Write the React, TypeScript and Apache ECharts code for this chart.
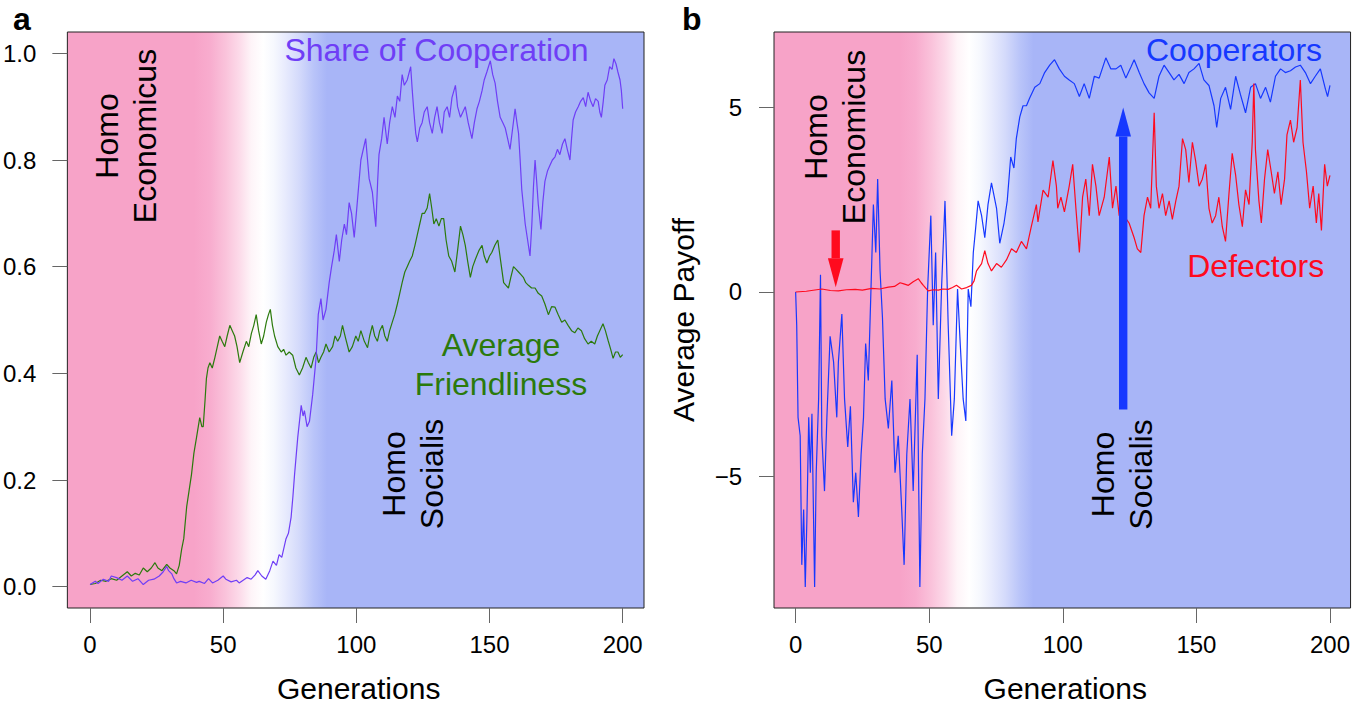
import React, { useEffect, useRef } from 'react';
import * as echarts from 'echarts';

const FONT = '"Liberation Sans", Arial, Helvetica, sans-serif';

// ---------- tick values ----------
const genTicks = [0, 50, 100, 150, 200];
const shareTicks = [0, 0.2, 0.4, 0.6, 0.8, 1.0];
const payoffTicks = [-5, 0, 5];

// ---------- panel a: [generation, value] ----------
const shareOfCooperation: [number, number][] = [
  [0, 0.004], [2, 0.01], [3, 0.006], [5, 0.014], [7, 0.01], [8, 0.02], [10, 0.017], [12, 0.012], [14, 0.02], [16, 0.01],
  [18, 0.015], [20, 0.004], [22, 0.012], [24, 0.014], [26, 0.02], [27.5, 0.028], [28.8, 0.038], [29.5, 0.03], [30.7, 0.024], [31.5, 0.015],
  [32.5, 0.007], [34, 0.01], [36, 0.007], [38, 0.012], [40, 0.008], [41, 0.01], [43, 0.006], [44.5, 0.015], [46, 0.007], [48, 0.012],
  [50, 0.02], [51, 0.014], [53, 0.009], [55, 0.012], [56, 0.007], [57.5, 0.012], [59, 0.017], [60.5, 0.014], [62, 0.022], [63, 0.03],
  [64.5, 0.02], [66, 0.014], [67.5, 0.03], [68.7, 0.048], [70, 0.04], [71, 0.06], [72, 0.055], [73.6, 0.09], [74.5, 0.1], [75.5, 0.13],
  [76.2, 0.17], [76.8, 0.21], [78, 0.28], [79.3, 0.34], [80, 0.32], [80.5, 0.33], [81.5, 0.3], [82.4, 0.31], [83.6, 0.36], [84.9, 0.43],
  [85.7, 0.51], [86.7, 0.54], [87.5, 0.5], [88.6, 0.52], [89.8, 0.57], [90.7, 0.6], [91.7, 0.63], [92.5, 0.66], [93.6, 0.61], [94.5, 0.65],
  [95.5, 0.68], [96.3, 0.66], [97.3, 0.72], [98.2, 0.7], [99.2, 0.655], [100, 0.7], [101.7, 0.8], [103.5, 0.84], [104.2, 0.8], [104.8, 0.765],
  [106, 0.74], [107.3, 0.675], [108, 0.76], [108.5, 0.81], [109.5, 0.84], [110.4, 0.88], [111.6, 0.83], [112.5, 0.87], [113.5, 0.9], [114.5, 0.88],
  [115.4, 0.92], [116.3, 0.91], [117.2, 0.96], [118, 0.94], [119.1, 0.95], [120.4, 0.975], [121, 0.93], [121.6, 0.89], [122.3, 0.85], [122.9, 0.834],
  [123.8, 0.86], [124.7, 0.87], [125.5, 0.89], [126.6, 0.9], [127.5, 0.87], [128.5, 0.85], [129.4, 0.88], [130.3, 0.9], [131.2, 0.87], [132.2, 0.85],
  [133, 0.89], [134.1, 0.9], [135, 0.88], [135.9, 0.917], [137.2, 0.94], [138, 0.9], [139.1, 0.88], [140, 0.89], [140.9, 0.9], [142, 0.87],
  [143.4, 0.84], [144.3, 0.87], [145.3, 0.896], [146.2, 0.91], [147.2, 0.93], [148, 0.95], [149, 0.965], [150.3, 0.986], [151.2, 0.96], [152.1, 0.944],
  [153, 0.91], [154, 0.88], [155, 0.87], [155.9, 0.86], [156.8, 0.84], [157.7, 0.82], [158.7, 0.86], [159.6, 0.896], [160.3, 0.87], [160.9, 0.85],
  [161.5, 0.8], [162.1, 0.745], [162.8, 0.71], [163.4, 0.68], [164.3, 0.65], [165.2, 0.62], [165.9, 0.68], [166.5, 0.75], [167.1, 0.8], [167.7, 0.76],
  [168.3, 0.717], [169.3, 0.67], [170, 0.72], [170.8, 0.76], [171.8, 0.78], [172.7, 0.79], [173.6, 0.8], [174.6, 0.806], [175.5, 0.82], [176.4, 0.81],
  [177.4, 0.83], [178.3, 0.84], [179.2, 0.82], [180.2, 0.8], [180.8, 0.84], [181.4, 0.875], [182.3, 0.89], [183.3, 0.9], [184.2, 0.91], [185.2, 0.917],
  [186.1, 0.9], [187, 0.927], [188, 0.91], [188.9, 0.9], [189.8, 0.915], [190.8, 0.91], [191.4, 0.89], [192, 0.88], [192.7, 0.91], [193.3, 0.94],
  [194.2, 0.95], [195.1, 0.975], [196, 0.97], [196.7, 0.99], [197.5, 0.98], [198.2, 0.965], [199, 0.95], [199.5, 0.93], [200, 0.896],
];

const averageFriendliness: [number, number][] = [
  [0, 0.004], [2, 0.006], [4, 0.012], [6, 0.01], [8, 0.015], [10, 0.012], [12, 0.02], [14, 0.028], [15.5, 0.02], [17, 0.025],
  [18.5, 0.022], [20, 0.035], [21.5, 0.028], [23, 0.035], [24.4, 0.045], [25.5, 0.035], [27, 0.03], [28.8, 0.042], [30, 0.035], [31.5, 0.03],
  [32.5, 0.024], [33.5, 0.04], [34.4, 0.07], [35.2, 0.09], [36.3, 0.15], [37.2, 0.18], [38.1, 0.21], [39, 0.25], [40, 0.28], [41.2, 0.317],
  [42, 0.3], [42.5, 0.3], [43.2, 0.35], [43.7, 0.39], [44.3, 0.41], [45, 0.42], [45.9, 0.41], [46.9, 0.43], [47.8, 0.45], [48.7, 0.47],
  [49.6, 0.46], [50.6, 0.45], [51.5, 0.47], [52.5, 0.49], [53.4, 0.48], [54.3, 0.47], [55.2, 0.45], [56.2, 0.42], [57.4, 0.44], [58.7, 0.46],
  [59.6, 0.45], [60.6, 0.475], [61.5, 0.49], [62.4, 0.51], [63.3, 0.48], [64.3, 0.455], [65.2, 0.47], [66.2, 0.496], [67, 0.51], [67.7, 0.52],
  [68.5, 0.49], [69.3, 0.47], [70.5, 0.45], [71.8, 0.44], [72.7, 0.445], [73.6, 0.434], [74.8, 0.44], [76.1, 0.434], [77.3, 0.41], [78.6, 0.397],
  [79.8, 0.41], [81.1, 0.43], [82, 0.42], [83, 0.41], [84, 0.43], [84.9, 0.44], [85.8, 0.42], [86.7, 0.43], [87.7, 0.44], [88.6, 0.455],
  [89.8, 0.44], [91.1, 0.45], [92, 0.47], [93, 0.46], [94, 0.47], [94.8, 0.49], [96, 0.465], [97.3, 0.44], [98.5, 0.45], [99.8, 0.47],
  [100.7, 0.46], [101.7, 0.48], [103, 0.46], [104.2, 0.448], [105, 0.47], [106, 0.49], [106.9, 0.47], [107.9, 0.46], [108.8, 0.48], [109.8, 0.49],
  [110.7, 0.47], [111.6, 0.46], [112.5, 0.48], [113.5, 0.496], [114.4, 0.51], [115.4, 0.53], [116.3, 0.55], [117.2, 0.57], [118.2, 0.59], [119.1, 0.6],
  [120, 0.61], [121, 0.62], [122, 0.64], [122.9, 0.66], [123.8, 0.68], [124.7, 0.7], [125.6, 0.7], [126.6, 0.71], [127.5, 0.737], [128.3, 0.71],
  [129.1, 0.68], [130, 0.69], [131, 0.676], [131.9, 0.69], [132.8, 0.69], [133.7, 0.65], [134.7, 0.62], [135.8, 0.61], [137, 0.59], [138, 0.63],
  [139.1, 0.676], [140, 0.66], [140.9, 0.64], [141.8, 0.61], [142.8, 0.58], [143.7, 0.6], [144.7, 0.614], [146, 0.63], [147.2, 0.64], [148, 0.62],
  [149, 0.607], [150, 0.62], [150.9, 0.627], [152, 0.64], [153.1, 0.65], [154.2, 0.61], [155.3, 0.57], [156.2, 0.565], [157.1, 0.56], [158, 0.58],
  [159, 0.6], [160, 0.595], [160.9, 0.59], [161.8, 0.585], [162.7, 0.58], [163.6, 0.57], [164.6, 0.565], [165.8, 0.56], [167.1, 0.56], [168.3, 0.55],
  [169.6, 0.545], [170.8, 0.53], [172.1, 0.51], [173.3, 0.525], [174.6, 0.524], [175.8, 0.51], [177.1, 0.496], [178.3, 0.5], [179.5, 0.49], [180.8, 0.48],
  [182, 0.476], [183.2, 0.485], [184.5, 0.48], [185.7, 0.465], [187, 0.455], [188.2, 0.46], [189.5, 0.455], [190.5, 0.47], [191.4, 0.48], [192.6, 0.493],
  [193.5, 0.48], [194.5, 0.462], [195.5, 0.445], [196.4, 0.428], [197.3, 0.44], [198.2, 0.44], [199.1, 0.43], [200, 0.435],
];

// ---------- panel b: [generation, payoff] ----------
const cooperatorsPayoff: [number, number][] = [
  [0, 0], [0.4, -0.9], [0.9, -3.4], [1.7, -3.9], [2.3, -7.4], [3, -5.9], [3.6, -8.0], [4.2, -6.2], [4.9, -3.4], [5.5, -4.9],
  [6.1, -3.3], [7.1, -8.0], [7.7, -4.9], [8.6, -2.9], [9.3, 0.47], [9.8, -3.9], [10.8, -5.4], [11.7, -3.4], [12.9, -1.2], [14.2, -1.9],
  [15.4, -3.4], [16, -1.9], [17.3, -0.6], [18.3, -2.9], [19.5, -4.2], [20.5, -3.1], [21.6, -5.7], [22.5, -4.9], [23.5, -6.1], [24.5, -4.4],
  [25.4, -3.4], [26.2, -1.4], [27.2, -2.4], [28.2, 0.08], [29.1, 2.37], [30, 1.07], [30.7, 3.06], [31.6, 0.57], [32.5, -0.7], [33.5, -2.9],
  [34.7, -3.7], [36, -2.4], [37.2, -4.9], [38.4, -3.9], [39.7, -5.9], [40.6, -7.4], [41.6, -4.4], [42.8, -2.9], [44, -5.4], [45.5, -1.7],
  [46.5, -8.0], [47.4, -4.4], [48.4, -2.9], [49.4, 0.08], [50.6, 2.07], [51.5, -0.9], [52.4, 1.07], [53.4, -2.9], [54.6, 0.08], [55.9, 2.47],
  [57.1, -0.9], [58.4, -3.9], [59.4, -2.9], [60.6, 0.08], [61.6, -1.4], [62.7, -2.9], [63.7, -3.5], [64.6, 0.08], [65.6, -0.4], [66.5, 1.07],
  [67.3, 1.67], [68.3, 2.47], [69.6, 2.07], [70.8, 1.47], [72, 2.37], [73.3, 2.96], [75.2, 2.27], [76.4, 1.32], [78, 1.87], [79.2, 2.47],
  [80.5, 3.66], [81.7, 3.36], [82.6, 4.16], [83.9, 4.75], [85.1, 5.05], [86.4, 5.05], [87.6, 5.26], [89.5, 5.55], [91.4, 5.65], [93.2, 5.95],
  [95.1, 6.15], [96.9, 6.3], [98.7, 6.05], [100.6, 5.85], [102.4, 5.75], [104.3, 5.65], [106.2, 5.3], [108, 5.65], [109.9, 5.25], [111.8, 5.85],
  [113.6, 5.8], [116.1, 6.35], [118, 6.05], [119.9, 6.05], [121.7, 6.15], [123.6, 5.8], [125.5, 6.1], [126.7, 6.3], [128.6, 5.95], [130.4, 5.65],
  [132.3, 5.4], [134.2, 5.25], [136, 5.85], [137.9, 6.15], [139.8, 5.95], [141.6, 5.75], [143.5, 5.9], [145.4, 5.65], [147.2, 5.95], [149.1, 6.05],
  [151, 6.2], [152.8, 5.75], [154.7, 5.6], [156.6, 5.05], [157.6, 4.46], [159.1, 5.25], [160.9, 5.55], [162.8, 4.95], [164.7, 5.85], [166.5, 5.35],
  [168.4, 4.86], [170.3, 5.55], [172.1, 5.65], [174, 5.25], [175.9, 5.55], [177.7, 5.15], [179.6, 5.85], [181.5, 6.05], [183.3, 5.95], [185.2, 6.0],
  [187.1, 6.1], [188.9, 6.15], [190.8, 5.95], [192.7, 5.65], [194.5, 5.85], [196.4, 6.05], [198.3, 5.5], [199.1, 5.3], [200, 5.6],
];

const defectorsPayoff: [number, number][] = [
  [0, 0], [4, 0.02], [9.8, 0.08], [13, 0.04], [16, 0.03], [19, 0.06], [22.3, 0.07], [25, 0.05], [28.5, 0.1], [31.5, 0.08],
  [34.7, 0.13], [37, 0.15], [39.1, 0.25], [40.5, 0.22], [42.2, 0.18], [44, 0.28], [45.9, 0.36], [47, 0.25], [47.8, 0.18], [49.6, 0.03],
  [51.5, 0.06], [53.4, 0.05], [55, 0.08], [57.1, 0.07], [58.7, 0.12], [60.2, 0.18], [62.1, 0.08], [64, 0.12], [65.8, 0.18], [66.8, 0.3],
  [67.7, 0.57], [69.6, 0.77], [70.8, 1.12], [72, 0.77], [73.3, 0.57], [75.2, 0.77], [77, 0.67], [78.9, 0.87], [80.8, 1.17], [82.6, 1.07],
  [84.5, 1.37], [86.4, 1.17], [88.2, 1.77], [90.1, 2.37], [90.7, 1.9], [92.6, 2.76], [94.5, 2.57], [96.3, 3.56], [97.6, 2.87], [98.1, 2.27],
  [99.3, 2.57], [100.6, 2.17], [102.4, 2.87], [103.7, 3.46], [104.9, 2.27], [106.2, 1.07], [107.4, 2.57], [108.6, 3.06], [109.9, 2.07], [111.1, 3.46],
  [112.4, 2.87], [113.6, 2.07], [115.5, 2.57], [117.4, 3.66], [118.6, 2.27], [119.9, 2.87], [121.1, 2.07], [122.3, 2.2], [123.5, 2.0], [124.8, 1.87],
  [126.7, 1.47], [127.9, 1.17], [129.2, 1.07], [130.4, 2.07], [131.7, 2.57], [132.9, 2.27], [134.2, 4.86], [135, 2.87], [136, 2.27], [137.3, 2.67],
  [138.5, 2.07], [139.8, 2.47], [141, 1.97], [142.3, 2.47], [143.5, 2.87], [144.8, 4.16], [146, 3.86], [147.2, 2.97], [148.5, 4.06], [149.7, 3.56],
  [151, 2.87], [152.2, 3.06], [153.5, 3.46], [154.7, 2.27], [155.9, 1.87], [157.2, 2.07], [158.4, 2.57], [159.7, 1.77], [160.9, 1.37], [162.2, 2.67],
  [163.4, 3.76], [164.7, 3.16], [165.9, 2.37], [167.2, 1.77], [168.4, 2.77], [169.7, 2.37], [170.9, 4.06], [171.5, 5.65], [172.1, 3.86], [173.4, 2.47],
  [174.3, 1.87], [175.5, 3.06], [176.7, 3.86], [178, 3.26], [179.2, 2.67], [180.5, 3.26], [181.7, 2.37], [183, 3.06], [183.9, 4.26], [185.2, 4.66],
  [186.4, 4.06], [187.7, 4.46], [188.9, 5.75], [189.9, 4.06], [191.2, 3.26], [192.4, 2.27], [193.7, 2.87], [194.9, 1.87], [195.8, 2.67], [196.8, 1.67],
  [198, 3.46], [199, 2.87], [200, 3.16],
];

// ---------- arrows in panel b (generation, start payoff, tip payoff) ----------
const arrowGen = [15, 122.6];
const arrowFrom = [1.67, -3.19];
const arrowTo = [0.13, 5.0];

// ---------- styles ----------
const PURPLE = '#6F3EF6';
const GREEN = '#2B7A0C';
const BLUE = '#1638FF';
const RED = '#FF0A1E';
const arrowColors = [RED, BLUE];

const xRangeA = [-8.5, 208];
const xRangeB = [-8.1, 207.7];
const yRangeA = [-0.04, 1.04];
const yRangeB = [-8.57, 7.05];

// background phase gradient (generation -> colour)
const bgStops: { g: number; c: string }[] = [
  { g: 39, c: 'rgb(247,163,200)' },
  { g: 45, c: 'rgb(248,172,206)' },
  { g: 51, c: 'rgb(250,195,219)' },
  { g: 56, c: 'rgb(252,218,233)' },
  { g: 60.5, c: 'rgb(254,244,248)' },
  { g: 65, c: 'rgb(255,255,255)' },
  { g: 69, c: 'rgb(246,248,254)' },
  { g: 73, c: 'rgb(233,236,253)' },
  { g: 78.5, c: 'rgb(212,218,251)' },
  { g: 84, c: 'rgb(185,196,249)' },
  { g: 89, c: 'rgb(168,181,247)' },
];

const makeBg = (range: number[]) => ({
  type: 'linear', x: 0, y: 0, x2: 1, y2: 0,
  colorStops: bgStops.map((s) => ({ offset: (s.g - range[0]) / (range[1] - range[0]), color: s.c })),
});

const xAxisCfg = (gridIndex: number, range: number[]) => ({
  type: 'value', gridIndex, min: range[0], max: range[1],
  name: 'Generations', nameLocation: 'middle', nameGap: 80,
  nameTextStyle: { fontSize: 30, color: '#000', fontFamily: FONT, verticalAlign: 'middle', padding: [0, 0, 0, 6] },
  axisLine: { show: false, onZero: false },
  axisTick: { show: true, inside: false, length: 15, customValues: genTicks, lineStyle: { color: '#666', width: 1 } },
  axisLabel: { customValues: genTicks, fontSize: 24, color: '#000', margin: 24, fontFamily: FONT },
  splitLine: { show: false },
});

const lineSeries = (name: string, data: [number, number][], color: string, idx: number, z: number) => ({
  name, type: 'line', data, xAxisIndex: idx, yAxisIndex: idx,
  showSymbol: false, symbol: 'none', silent: true, z,
  lineStyle: { color, width: 1.2 }, itemStyle: { color },
});

const vText = (x: number, y: number, text: string, color = '#000') => ({
  type: 'text', x, y, rotation: Math.PI / 2, z: 100,
  style: { text, fill: color, fontSize: 32, fontFamily: FONT, align: 'center', verticalAlign: 'middle', lineHeight: 38 },
});
const hText = (x: number, y: number, text: string, color: string, lh = 39) => ({
  type: 'text', x, y, z: 100,
  style: { text, fill: color, fontSize: 32, fontFamily: FONT, align: 'center', verticalAlign: 'middle', lineHeight: lh },
});
const panelLabel = (x: number, text: string) => ({
  type: 'text', x, y: 19, z: 100,
  style: { text, fill: '#000', fontSize: 32, lineHeight: 32, fontWeight: 'bold', fontFamily: FONT, align: 'left', verticalAlign: 'middle' },
});

const option: any = {
  animation: false,
  backgroundColor: '#fff',
  textStyle: { fontFamily: FONT },
  grid: [
    { left: 65, top: 32, width: 579, height: 582, show: true, borderColor: '#222', borderWidth: 1, backgroundColor: makeBg(xRangeA) },
    { left: 774, top: 32, width: 578, height: 582, show: true, borderColor: '#222', borderWidth: 1, backgroundColor: makeBg(xRangeB) },
  ],
  xAxis: [xAxisCfg(0, xRangeA), xAxisCfg(1, xRangeB)],
  yAxis: [
    {
      type: 'value', gridIndex: 0, min: yRangeA[0], max: yRangeA[1],
      axisLine: { show: false, onZero: false },
      axisTick: { show: true, inside: false, length: 15, customValues: shareTicks, lineStyle: { color: '#666', width: 1 } },
      axisLabel: { customValues: shareTicks, fontSize: 24, color: '#000', margin: 31, fontFamily: FONT, formatter: (v: number) => v.toFixed(1) },
      splitLine: { show: false },
    },
    {
      type: 'value', gridIndex: 1, min: yRangeB[0], max: yRangeB[1],
      name: 'Average Payoff', nameLocation: 'middle', nameGap: 91,
      nameTextStyle: { fontSize: 30, color: '#000', fontFamily: FONT, verticalAlign: 'middle' },
      axisLine: { show: false, onZero: false },
      axisTick: { show: true, inside: false, length: 15, customValues: payoffTicks, lineStyle: { color: '#666', width: 1 } },
      axisLabel: { customValues: payoffTicks, fontSize: 24, color: '#000', margin: 32, fontFamily: FONT, formatter: (v: number) => (v < 0 ? '\u2212' + Math.abs(v) : String(v)) },
      splitLine: { show: false },
    },
  ],
  series: [
    lineSeries('Average Friendliness', averageFriendliness, GREEN, 0, 3),
    lineSeries('Share of Cooperation', shareOfCooperation, PURPLE, 0, 4),
    lineSeries('Cooperators', cooperatorsPayoff, BLUE, 1, 3),
    lineSeries('Defectors', defectorsPayoff, RED, 1, 4),
    {
      type: 'custom', xAxisIndex: 1, yAxisIndex: 1, z: 10, silent: true,
      data: arrowGen.map((g, i) => [g, arrowFrom[i], arrowTo[i]]),
      renderItem: (params: any, api: any) => {
        const x = api.value(0);
        const p0 = api.coord([x, api.value(1)]);
        const p1 = api.coord([x, api.value(2)]);
        const dir = p1[1] > p0[1] ? 1 : -1;
        const headLen = 29;
        const headHalf = 7.8;
        const shaftHalf = 4.2;
        const hb = p1[1] - dir * headLen;
        const color = arrowColors[params.dataIndex];
        return {
          type: 'group',
          children: [
            { type: 'rect', shape: { x: p0[0] - shaftHalf, y: Math.min(p0[1], hb), width: shaftHalf * 2, height: Math.abs(hb - p0[1]) }, style: { fill: color } },
            { type: 'polygon', shape: { points: [[p1[0] - headHalf, hb], [p1[0] + headHalf, hb], [p1[0], p1[1]]] }, style: { fill: color } },
          ],
        };
      },
    },
  ],
  graphic: [
    panelLabel(13, 'a'),
    panelLabel(682, 'b'),
    vText(125.5, 136, 'Homo\nEconomicus'),
    vText(413, 474, 'Homo\nSocialis'),
    hText(436.5, 50, 'Share of Cooperation', PURPLE),
    hText(501, 364, 'Average\nFriendliness', GREEN),
    vText(834.5, 137, 'Homo\nEconomicus'),
    vText(1121.5, 474.5, 'Homo\nSocialis'),
    hText(1234, 49.6, 'Cooperators', BLUE),
    hText(1255.7, 266, 'Defectors', RED),
  ],
};

export default function App() {
  const ref = useRef<HTMLDivElement>(null);
  useEffect(() => {
    const chart = echarts.init(ref.current as HTMLDivElement, undefined, { renderer: 'svg' });
    chart.setOption(option);
    return () => chart.dispose();
  }, []);
  return (
    <div
      ref={ref}
      style={{ position: 'fixed', left: 0, top: 0, width: 1353, height: 708, background: '#fff' }}
    />
  );
}
